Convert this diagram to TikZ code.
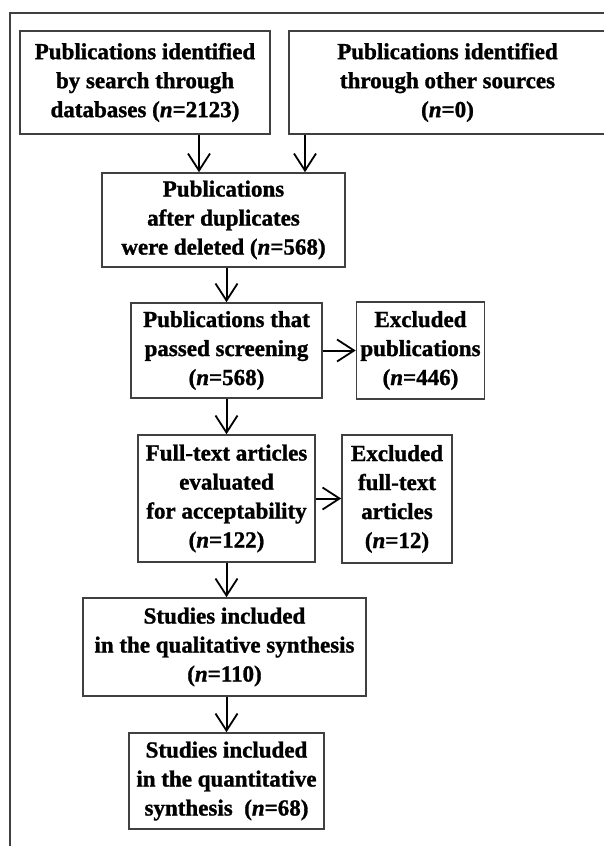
\documentclass[tikz,border=0pt]{standalone}
\usepackage{fontspec}
\setmainfont{Liberation Serif}[BoldFeatures={FakeBold=1.2},BoldItalicFeatures={FakeBold=1.2}]
\usepackage{tikz}
\usetikzlibrary{arrows.meta}
\newcommand{\nval}[1]{(\textit{n}=#1)}

\begin{document}
\begin{tikzpicture}[x=0.5pt,y=-0.5pt,
	box/.style={draw=black!75,line width=0.8pt,inner sep=0pt,align=center,
		font=\bfseries\fontsize{11.5}{14.5}\selectfont},
	arr/.style={line width=1pt,-{Straight Barb[length=8.5pt,width=11pt,line width=0.9pt]}}]
	\useasboundingbox (0,0) rectangle (604,846);
	\clip (0,0) rectangle (604,846);
	\draw[black!75,line width=0.8pt] (10,850) -- (10,13) -- (610,13);
	\node[box,minimum width=125pt,minimum height=51.5pt] (srch) at (145,82.5) {Publications identified\\by search through\\databases \nval{2123}};
	\node[box,minimum width=158.5pt,minimum height=51.5pt] (othr) at (447.5,82.5) {Publications identified\\through other sources\\\nval{0}};
	\node[box,minimum width=121.5pt,minimum height=47pt] (dupl) at (223.5,220) {Publications\\after duplicates\\were deleted \nval{568}};
	\node[box,minimum width=95.5pt,minimum height=47.5pt] (scrn) at (226.5,350.5) {Publications that\\passed screening\\\nval{568}};
	\node[box,minimum width=64pt,minimum height=48.5pt] (expub) at (420.5,350.5) {Excluded\\publications\\\nval{446}};
	\node[box,minimum width=88.5pt,minimum height=63.5pt] (full) at (226.5,498.5) {Full-text articles\\evaluated\\for acceptability\\\nval{122}};
	\node[box,minimum width=55pt,minimum height=64pt] (exfull) at (397,499) {Excluded\\full-text\\articles\\\nval{12}};
	\node[box,minimum width=141.5pt,minimum height=49pt] (qual) at (224.5,647) {Studies included\\in the qualitative synthesis\\\nval{110}};
	\node[box,minimum width=97.5pt,minimum height=48pt] (quan) at (226.5,781) {Studies included\\in the quantitative\\synthesis\ \ \nval{68}};
	\draw[arr] ([xshift=27pt]srch.south) -- ([xshift=27pt]srch.south |- dupl.north);
	\draw[arr] ([xshift=-71.25pt]othr.south) -- ([xshift=-71.25pt]othr.south |- dupl.north);
	\draw[arr] (scrn.north |- dupl.south) -- (scrn.north);
	\draw[arr] (scrn.east) -- (scrn.east -| expub.west);
	\draw[arr] (scrn.south) -- (full.north);
	\draw[arr] (full.east) -- (full.east -| exfull.west);
	\draw[arr] (full.south) -- (full.south |- qual.north);
	\draw[arr] (full.south |- qual.south) -- (quan.north);
\end{tikzpicture}
\end{document}
